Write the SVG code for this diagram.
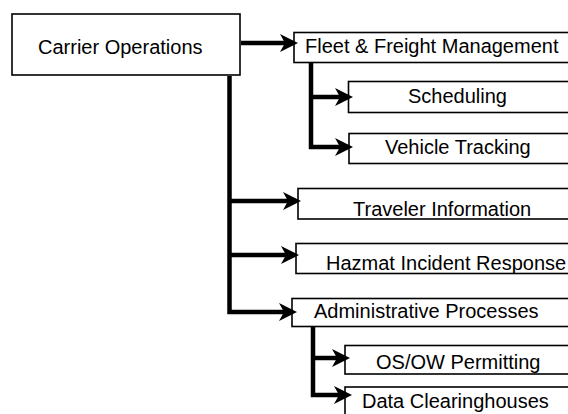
<svg xmlns="http://www.w3.org/2000/svg" width="568" height="414" viewBox="0 0 568 414">
<style>
.box{fill:#fff;stroke:#000;stroke-width:1.6}
.lbl{font-family:"Liberation Sans",Arial,sans-serif;font-size:20px;fill:#000}
.con{fill:none;stroke:#000;stroke-width:4.5}
</style>
<defs>
<marker id="ah" markerUnits="userSpaceOnUse" markerWidth="20" markerHeight="20" viewBox="-19 -10 20 20" refX="-5" refY="0" orient="auto">
<path d="M0,0 L-18,-9 L-13,0 L-18,9 Z" fill="#000"/>
</marker>
</defs>
<rect width="568" height="414" fill="#fff"/>
<g id="carrier-operations"><rect class="box" x="12" y="14" width="228" height="61"/><text class="lbl" x="38" y="54">Carrier Operations</text></g>
<g id="fleet-freight"><rect class="box" x="294" y="32.5" width="290" height="30"/><text class="lbl" x="305" y="53">Fleet &amp; Freight Management</text></g>
<g id="scheduling"><rect class="box" x="348.5" y="81.5" width="240" height="31"/><text class="lbl" x="408" y="103">Scheduling</text></g>
<g id="vehicle-tracking"><rect class="box" x="349" y="133.5" width="240" height="30"/><text class="lbl" x="385" y="154">Vehicle Tracking</text></g>
<g id="traveler-information"><rect class="box" x="298" y="188.5" width="290" height="30.5"/><text class="lbl" x="353" y="216">Traveler Information</text></g>
<g id="hazmat"><rect class="box" x="296" y="243.5" width="290" height="30"/><text class="lbl" x="326" y="270">Hazmat Incident Response</text></g>
<g id="administrative"><rect class="box" x="292" y="298.5" width="290" height="28"/><text class="lbl" x="314" y="318">Administrative Processes</text></g>
<g id="osow"><rect class="box" x="345" y="345.5" width="240" height="28.5"/><text class="lbl" x="376" y="369">OS/OW Permitting</text></g>
<g id="data-clearinghouses"><rect class="box" x="345" y="387" width="240" height="40"/><text class="lbl" x="362" y="408">Data Clearinghouses</text></g>
<g id="connectors">
<path class="con" d="M241,43 H293" marker-end="url(#ah)"/>
<path class="con" d="M229.5,76 V312 H292" marker-end="url(#ah)"/>
<path class="con" d="M229.5,201 H296" marker-end="url(#ah)"/>
<path class="con" d="M229.5,255 H294" marker-end="url(#ah)"/>
<path class="con" d="M311,63 V147 H348" marker-end="url(#ah)"/>
<path class="con" d="M311,97 H348" marker-end="url(#ah)"/>
<path class="con" d="M313,327 V395 H347" marker-end="url(#ah)"/>
<path class="con" d="M313,358 H345" marker-end="url(#ah)"/>
</g>
</svg>
